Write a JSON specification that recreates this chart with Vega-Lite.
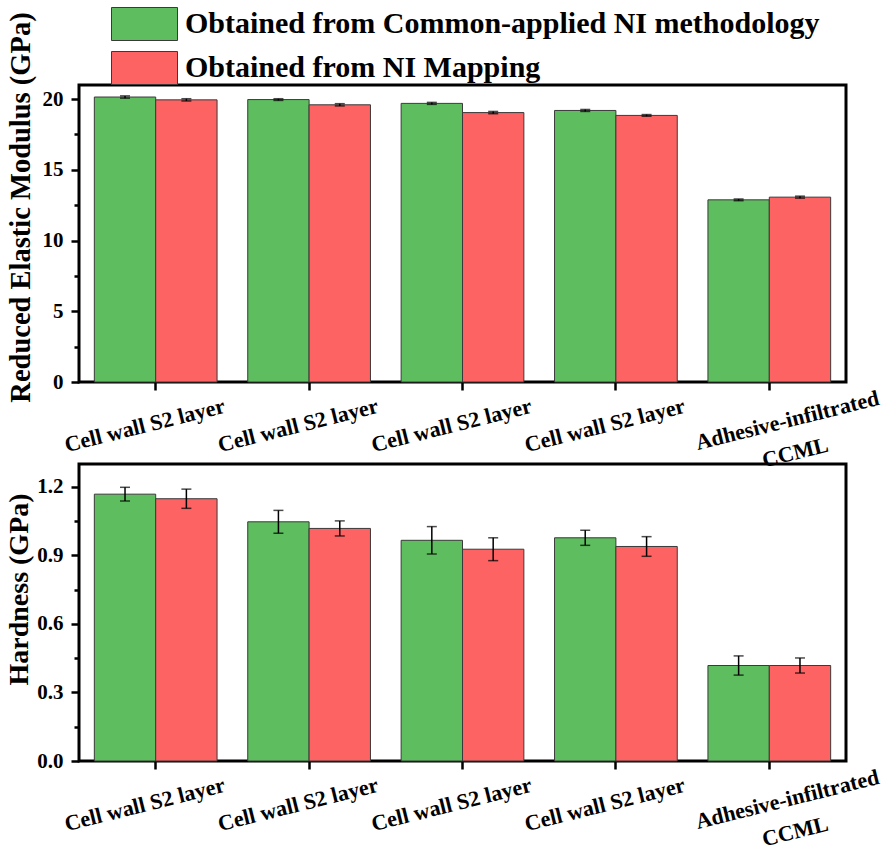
{
  "$schema": "https://vega.github.io/schema/vega-lite/v6.json",
  "padding": {"left": 3, "top": 7, "right": 0, "bottom": 0},
  "background": "white",
  "data": {"values": [
    {"site": "Cell wall S2 layer (1)", "method": "Obtained from Common-applied NI methodology", "mod": 20.15, "modLo": 20.07, "modHi": 20.23, "hard": 1.168, "hardLo": 1.138, "hardHi": 1.198},
    {"site": "Cell wall S2 layer (1)", "method": "Obtained from NI Mapping", "mod": 19.95, "modLo": 19.87, "modHi": 20.03, "hard": 1.148, "hardLo": 1.106, "hardHi": 1.19},
    {"site": "Cell wall S2 layer (2)", "method": "Obtained from Common-applied NI methodology", "mod": 19.97, "modLo": 19.91, "modHi": 20.03, "hard": 1.047, "hardLo": 0.997, "hardHi": 1.097},
    {"site": "Cell wall S2 layer (2)", "method": "Obtained from NI Mapping", "mod": 19.6, "modLo": 19.52, "modHi": 19.68, "hard": 1.018, "hardLo": 0.985, "hardHi": 1.051},
    {"site": "Cell wall S2 layer (3)", "method": "Obtained from Common-applied NI methodology", "mod": 19.7, "modLo": 19.63, "modHi": 19.77, "hard": 0.966, "hardLo": 0.906, "hardHi": 1.026},
    {"site": "Cell wall S2 layer (3)", "method": "Obtained from NI Mapping", "mod": 19.05, "modLo": 18.97, "modHi": 19.13, "hard": 0.927, "hardLo": 0.877, "hardHi": 0.977},
    {"site": "Cell wall S2 layer (4)", "method": "Obtained from Common-applied NI methodology", "mod": 19.2, "modLo": 19.13, "modHi": 19.27, "hard": 0.977, "hardLo": 0.944, "hardHi": 1.01},
    {"site": "Cell wall S2 layer (4)", "method": "Obtained from NI Mapping", "mod": 18.85, "modLo": 18.79, "modHi": 18.91, "hard": 0.939, "hardLo": 0.896, "hardHi": 0.982},
    {"site": "Adhesive-infiltrated CCML", "method": "Obtained from Common-applied NI methodology", "mod": 12.88, "modLo": 12.82, "modHi": 12.94, "hard": 0.418, "hardLo": 0.376, "hardHi": 0.46},
    {"site": "Adhesive-infiltrated CCML", "method": "Obtained from NI Mapping", "mod": 13.07, "modLo": 13.0, "modHi": 13.14, "hard": 0.418, "hardLo": 0.385, "hardHi": 0.451}
  ]},
  "spacing": 82,
  "bounds": "flush",
  "vconcat": [
    {
      "width": 767,
      "height": 297,
      "layer": [
        {
          "mark": {"type": "bar", "stroke": "#3a3a3a", "strokeWidth": 1},
          "encoding": {
            "x": {"field": "site", "type": "nominal", "sort": null, "title": null,
              "scale": {"paddingInner": 0.2, "paddingOuter": 0.1},
              "axis": {"labelAngle": -14, "labelAlign": "center", "labelBaseline": "middle", "labelFontSize": 22, "labelLineHeight": 33, "labelLimit": 400,
                "tickSize": 8,
                "labelPadding": {"condition": {"test": "indexof(datum.value,'Adhesive')==0", "value": 30}, "value": 35},
                "labelOffset": {"condition": {"test": "indexof(datum.value,'Adhesive')==0", "value": 18}, "value": -11},
                "labelExpr": "indexof(datum.value,'Adhesive')==0 ? ['Adhesive-infiltrated','CCML'] : 'Cell wall S2 layer'"}},
            "xOffset": {"field": "method", "type": "nominal", "sort": null, "scale": {"paddingInner": 0, "paddingOuter": 0}},
            "y": {"field": "mod", "type": "quantitative", "scale": {"domain": [0, 21], "nice": false, "zero": true},
              "axis": {"orient": "left", "values": [0, 5, 10, 15, 20], "tickSize": 8, "labelPadding": 8, "labelFontSize": 21,
                "title": "Reduced Elastic Modulus (GPa)", "titleFontSize": 28.5, "titleX": -50, "titleY": 122, "titleBaseline": "alphabetic"}},
            "color": {"field": "method", "type": "nominal",
              "scale": {"domain": ["Obtained from Common-applied NI methodology", "Obtained from NI Mapping"], "range": ["#5ebd5e", "#fd6363"]},
              "legend": {"title": null, "orient": "none", "legendX": 48.5, "legendY": -78, "symbolType": "M-2,-1H2V1H-2Z", "symbolSize": 1089,
                "symbolStrokeColor": "#3a3a3a", "symbolStrokeWidth": 1, "symbolOpacity": 1, "labelFontSize": 30, "labelFont": "Liberation Serif", "labelFontWeight": "bold", "labelColor": "black", "labelOffset": 23.5, "rowPadding": 6, "labelLimit": 800}}
          }
        },
        {
          "mark": {"type": "rule", "color": "black", "strokeWidth": 1.5},
          "encoding": {
            "x": {"field": "site", "type": "nominal", "sort": null},
            "xOffset": {"field": "method", "type": "nominal", "sort": null},
            "y": {"field": "modLo", "type": "quantitative",
              "axis": {"orient": "left", "values": [2.5, 7.5, 12.5, 17.5], "tickSize": 5, "labels": false, "title": null}},
            "y2": {"field": "modHi"}
          }
        },
        {
          "mark": {"type": "tick", "color": "black", "thickness": 1.5, "size": 10},
          "encoding": {
            "x": {"field": "site", "type": "nominal", "sort": null},
            "xOffset": {"field": "method", "type": "nominal", "sort": null},
            "y": {"field": "modLo", "type": "quantitative", "axis": null}
          }
        },
        {
          "mark": {"type": "tick", "color": "black", "thickness": 1.5, "size": 10},
          "encoding": {
            "x": {"field": "site", "type": "nominal", "sort": null},
            "xOffset": {"field": "method", "type": "nominal", "sort": null},
            "y": {"field": "modHi", "type": "quantitative", "axis": null}
          }
        }
      ],
      "resolve": {"axis": {"y": "independent"}}
    },
    {
      "width": 767,
      "height": 297,
      "layer": [
        {
          "mark": {"type": "bar", "stroke": "#3a3a3a", "strokeWidth": 1},
          "encoding": {
            "x": {"field": "site", "type": "nominal", "sort": null, "title": null,
              "scale": {"paddingInner": 0.2, "paddingOuter": 0.1},
              "axis": {"labelAngle": -14, "labelAlign": "center", "labelBaseline": "middle", "labelFontSize": 22, "labelLineHeight": 33, "labelLimit": 400,
                "tickSize": 8,
                "labelPadding": {"condition": {"test": "indexof(datum.value,'Adhesive')==0", "value": 30}, "value": 35},
                "labelOffset": {"condition": {"test": "indexof(datum.value,'Adhesive')==0", "value": 18}, "value": -11},
                "labelExpr": "indexof(datum.value,'Adhesive')==0 ? ['Adhesive-infiltrated','CCML'] : 'Cell wall S2 layer'"}},
            "xOffset": {"field": "method", "type": "nominal", "sort": null, "scale": {"paddingInner": 0, "paddingOuter": 0}},
            "y": {"field": "hard", "type": "quantitative", "scale": {"domain": [0, 1.3], "nice": false, "zero": true},
              "axis": {"orient": "left", "values": [0, 0.3, 0.6, 0.9, 1.2], "format": ".1f", "tickSize": 8, "labelPadding": 8, "labelFontSize": 21,
                "title": "Hardness (GPa)", "titleFontSize": 28, "titleX": -52, "titleY": 125, "titleBaseline": "alphabetic"}},
            "color": {"field": "method", "type": "nominal",
              "scale": {"domain": ["Obtained from Common-applied NI methodology", "Obtained from NI Mapping"], "range": ["#5ebd5e", "#fd6363"]},
              "legend": {"title": null, "orient": "none", "legendX": 48.5, "legendY": -78, "symbolType": "M-2,-1H2V1H-2Z", "symbolSize": 1089,
                "symbolStrokeColor": "#3a3a3a", "symbolStrokeWidth": 1, "symbolOpacity": 1, "labelFontSize": 30, "labelFont": "Liberation Serif", "labelFontWeight": "bold", "labelColor": "black", "labelOffset": 23.5, "rowPadding": 6, "labelLimit": 800}}
          }
        },
        {
          "mark": {"type": "rule", "color": "black", "strokeWidth": 1.5},
          "encoding": {
            "x": {"field": "site", "type": "nominal", "sort": null},
            "xOffset": {"field": "method", "type": "nominal", "sort": null},
            "y": {"field": "hardLo", "type": "quantitative",
              "axis": {"orient": "left", "values": [0.15, 0.45, 0.75, 1.05], "tickSize": 5, "labels": false, "title": null}},
            "y2": {"field": "hardHi"}
          }
        },
        {
          "mark": {"type": "tick", "color": "black", "thickness": 1.5, "size": 10},
          "encoding": {
            "x": {"field": "site", "type": "nominal", "sort": null},
            "xOffset": {"field": "method", "type": "nominal", "sort": null},
            "y": {"field": "hardLo", "type": "quantitative", "axis": null}
          }
        },
        {
          "mark": {"type": "tick", "color": "black", "thickness": 1.5, "size": 10},
          "encoding": {
            "x": {"field": "site", "type": "nominal", "sort": null},
            "xOffset": {"field": "method", "type": "nominal", "sort": null},
            "y": {"field": "hardHi", "type": "quantitative", "axis": null}
          }
        }
      ],
      "resolve": {"axis": {"y": "independent"}}
    }
  ],
  "config": {
    "font": "Liberation Serif",
    "view": {"stroke": "black", "strokeWidth": 3},
    "axis": {"grid": false, "domain": false, "tickColor": "black", "tickWidth": 2.5,
      "labelFont": "Liberation Serif", "labelFontWeight": "bold", "labelColor": "black",
      "titleFont": "Liberation Serif", "titleFontWeight": "bold", "titleColor": "black"}
  }
}
